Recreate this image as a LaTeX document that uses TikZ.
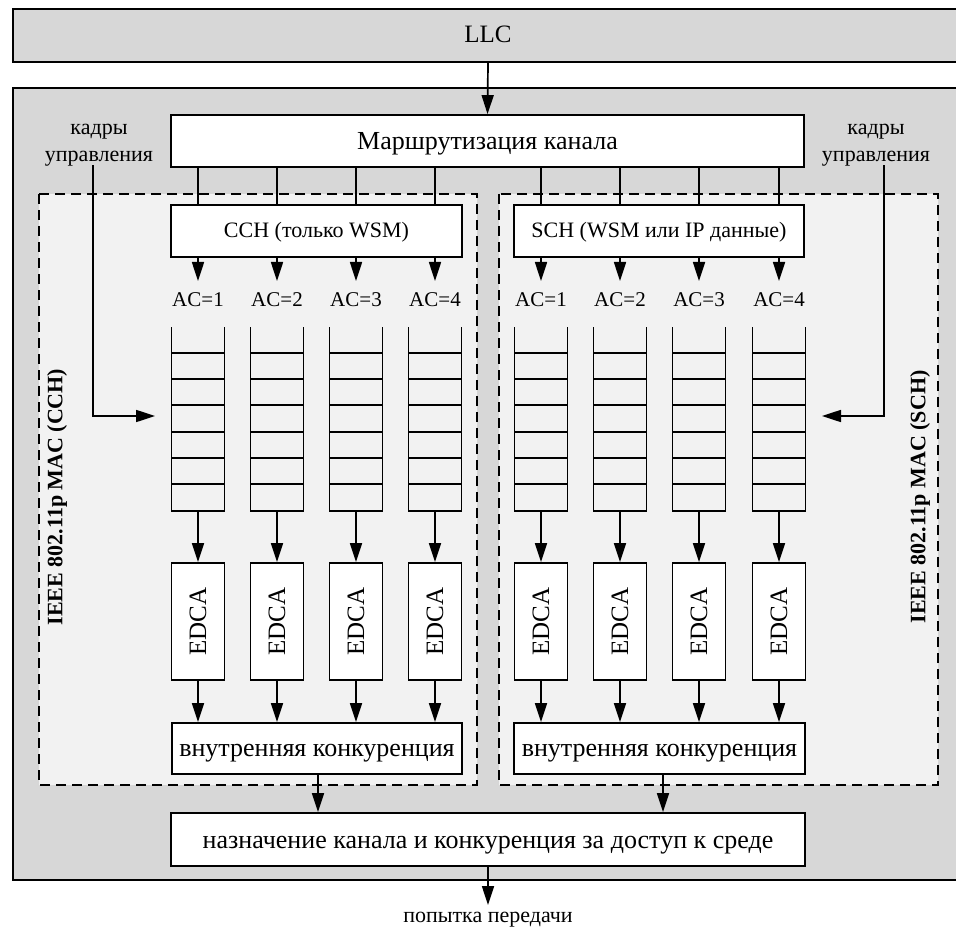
\documentclass[tikz,border=0pt]{standalone}
\usepackage{fontspec}
\setmainfont{Liberation Serif}
\usetikzlibrary{arrows.meta}
\newcommand\setfs[1]{\fontsize{#1}{#1}\selectfont}
\definecolor{outergray}{HTML}{D7D7D7}
\definecolor{innergray}{HTML}{F2F2F2}
\begin{document}
\begin{tikzpicture}[x=1pt,y=-1pt,
  box/.style={draw,line width=1.8pt,fill=white,inner sep=0pt},
  bigtxt/.style={font=\setfs{26}},
  arr/.style={line width=1.7pt,-{Triangle[length=19pt,width=12pt]}},
  ln/.style={line width=1.7pt},
  qline/.style={line width=1.7pt},
  cell/.style={line width=1.2pt},
  dashbox/.style={line width=1.9pt,dash pattern=on 10pt off 6pt,fill=innergray},
  aclab/.style={anchor=north,inner sep=0pt,font=\setfs{21}},
  sidelab/.style={font=\bfseries\setfs{22},rotate=90,inner sep=0pt}]
\useasboundingbox (0,0) rectangle (956,928);
\clip (0,0) rectangle (956,928);
\fill[white] (0,0) rectangle (956,928);
% LLC
\draw[line width=1.8pt,fill=outergray] (13,9) rectangle (975,62);
\node[inner sep=0pt,font=\setfs{25}] (llc) at (488,34.5) {LLC};
% outer MAC box
\draw[line width=1.8pt,fill=outergray] (13,88) rectangle (975,880);
% dashed boxes
\draw[dashbox] (39,194) rectangle (477,785);
\draw[dashbox] (499,194) rectangle (938,785);
\node[sidelab] (labL) at (57,497) {IEEE 802.11p MAC (CCH)};
\node[sidelab] (labR) at (920,497) {IEEE 802.11p MAC (SCH)};
% routing
\node[box,bigtxt,minimum width=633pt,minimum height=52pt,text height=19pt,text depth=1pt] (route) at (487.5,141) {Маршрутизация канала};
\coordinate (llcb) at (488,62);
\draw[arr] (llcb) -- (route.north);
% channel boxes
\node[box,font=\setfs{22},minimum width=291pt,minimum height=52pt,text height=15pt,text depth=3pt] (cch) at (316.5,231) {CCH (только WSM)};
\node[box,font=\setfs{22},minimum width=290pt,minimum height=52pt,text height=15pt,text depth=3pt] (sch) at (659,231) {SCH (WSM или IP данные)};
% columns
\foreach \i/\c/\ch in {1/198/cch,2/277/cch,3/356/cch,4/435/cch,5/541/sch,6/620/sch,7/699/sch,8/779/sch}{
  \pgfmathtruncatemacro{\ac}{mod(\i-1,4)+1}
  \draw[ln] (\c,167) -- (\c,205);
  \node[aclab] (ac\i) at (\c,292) {AC=\ac};
  \draw[arr] (ac\i.north |- \ch.south) -- ([yshift=11pt]ac\i.north);
  % queue
  \draw[qline] (\c-26.5,327) -- (\c-26.5,511) -- (\c+26.5,511) -- (\c+26.5,327);
  \foreach \y in {353,379,405,432,458,484}{\draw[cell] (\c-26.5,\y) -- (\c+26.5,\y);}
  \coordinate (q\i) at (\c,511);
  \node[box,minimum width=53pt,minimum height=117pt] (e\i) at (\c,621.5) {\rotatebox{90}{\setfs{25}EDCA}};
  \draw[arr] (q\i) -- (e\i.north);
}
% internal contention
\node[box,bigtxt,minimum width=290pt,minimum height=51pt,text height=17pt,text depth=2pt] (intL) at (317,748.5) {внутренняя конкуренция};
\node[box,bigtxt,minimum width=291pt,minimum height=51pt,text height=17pt,text depth=2pt] (intR) at (659.5,748.5) {внутренняя конкуренция};
\foreach \i in {1,2,3,4}{\draw[arr] (e\i.south) -- (e\i.south |- intL.north);}
\foreach \i in {5,6,7,8}{\draw[arr] (e\i.south) -- (e\i.south |- intR.north);}
% final
\node[box,bigtxt,minimum width=634pt,minimum height=53pt,text height=18pt,text depth=1pt] (assign) at (488,839.5) {назначение канала и конкуренция за доступ к среде};
\draw[arr] ([xshift=1pt]intL.south) -- ([xshift=1pt]intL.south |- assign.north);
\draw[arr] ([xshift=3.5pt]intR.south) -- ([xshift=3.5pt]intR.south |- assign.north);
\node[anchor=north,inner sep=0pt,font=\setfs{22}] (tx) at (488,912) {попытка передачи};
\draw[arr] (assign.south) -- ([yshift=7pt]tx.north);
% management frames
\node[inner sep=0pt,align=center,font=\fontsize{22}{27}\selectfont] (kl) at (99,145) {кадры\\управления};
\node[inner sep=0pt,align=center,font=\fontsize{22}{27}\selectfont] (kr) at (876,145) {кадры\\управления};
\coordinate (tl) at (155,416);
\coordinate (tr) at (822,416);
\draw[arr] ([xshift=-6pt,yshift=1pt]kl.south) |- (tl);
\draw[arr] ([xshift=8pt,yshift=1pt]kr.south) |- (tr);
\end{tikzpicture}
\end{document}
